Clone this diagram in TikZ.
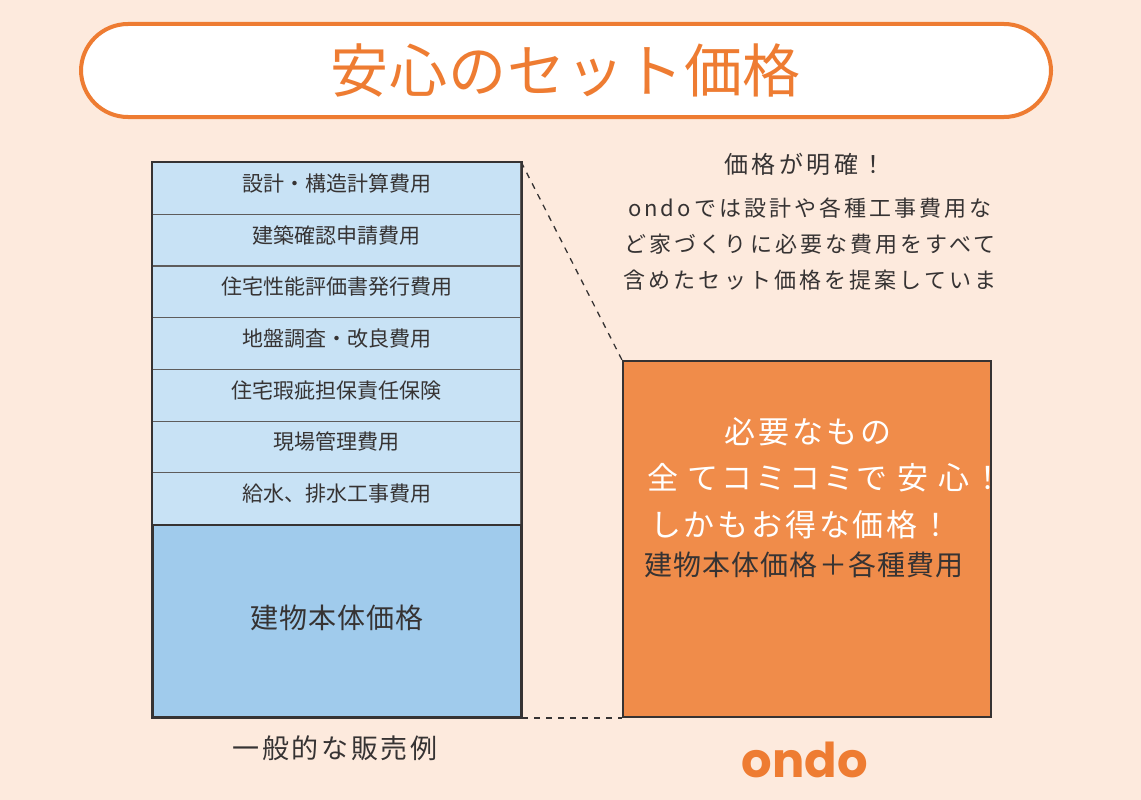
\documentclass[tikz,border=0pt]{standalone}
\usepackage{fontspec}
\setmainfont{Noto Sans CJK JP}
\newfontfamily\ondofont{Poppins}
\usetikzlibrary{positioning}
\definecolor{bgpeach}{HTML}{FDEADD}
\definecolor{titleorange}{HTML}{EE7C32}
\definecolor{boxorange}{HTML}{F08C4A}
\definecolor{rowblue}{HTML}{C8E2F5}
\definecolor{bodyblue}{HTML}{A0CBEC}
\definecolor{ink}{HTML}{363333}
\begin{document}
\begin{tikzpicture}[x=1pt,y=-1pt,
  cost/.style={draw=ink!80, line width=1.2pt, fill=rowblue, minimum width=368pt, minimum height=51.7pt, inner sep=0pt, anchor=north west, text=ink, font=\fontsize{21}{21}\selectfont, text height=14pt, text depth=8pt},
  boxline/.style={text=white, inner sep=0pt, font=\fontsize{31}{31}\selectfont\addfontfeatures{LetterSpace=9}},
  joinline/.style={draw=ink, line width=1.3pt, dash pattern=on 6pt off 6pt}]
\fill[bgpeach] (0,0) rectangle (1141,800);
\useasboundingbox (0,0) rectangle (1141,800);
% title
\node[draw=titleorange, line width=4pt, fill=white, rounded corners=47pt, minimum width=970pt, minimum height=93pt, text=titleorange, font=\fontsize{58}{58}\selectfont\addfontfeatures{LetterSpace=1.5}] (title) at (566,70.5) {安心のセット価格};
% general example
\node[cost] (row1) at (152,162) {設計・構造計算費用};
\node[cost] (row2) at (152,213.7) {建築確認申請費用};
\node[cost] (row3) at (152,265.4) {住宅性能評価書発行費用};
\node[cost] (row4) at (152,317.1) {地盤調査・改良費用};
\node[cost] (row5) at (152,368.8) {住宅瑕疵担保責任保険};
\node[cost] (row6) at (152,420.5) {現場管理費用};
\node[cost] (row7) at (152,472.2) {給水、排水工事費用};
\node[draw=ink, line width=2pt, fill=bodyblue, minimum width=368pt, minimum height=192pt, inner sep=0pt, anchor=north west, text=ink, font=\fontsize{28}{28}\selectfont\addfontfeatures{LetterSpace=4}, text height=20pt, text depth=6pt] (body) at (152,524) {建物本体価格};
\draw[ink, line width=2pt] (row1.north west) rectangle (body.south east);
\node[text=ink, font=\fontsize{27}{27}\selectfont\addfontfeatures{LetterSpace=10}] (general) at (335,748) {一般的な販売例};
% ondo
\node[draw=ink, line width=2pt, fill=boxorange, minimum width=368pt, minimum height=356pt, inner sep=0pt, anchor=north west] (ondobox) at (622,360) {};
\draw[joinline] (row1.north east) -- (ondobox.north west);
\draw[joinline] (body.south east) -- (ondobox.south west);
\node[boxline] (need) at (808,432) {必要なもの};
\node[boxline, anchor=west] (all) at (647,478) {全 てコミコミで 安 心！};
\node[boxline, anchor=west] (deal) at (650,525) {しかもお得な価格！};
\node[text=ink, inner sep=0pt, font=\fontsize{28}{28}\selectfont\addfontfeatures{LetterSpace=4}] (sum) at (804,565) {建物本体価格＋各種費用};
\node[text=titleorange, font=\ondofont\bfseries\fontsize{48}{48}\selectfont] (brand) at (805,760) {ondo};
% explanation
\node[text=ink, font=\fontsize{24}{24}\selectfont\addfontfeatures{LetterSpace=14}] (clear) at (805,164) {価格が明確！};
\node[text=ink, align=center, font=\fontsize{22}{36}\selectfont\addfontfeatures{LetterSpace=14}] (note) at (810,244) {ondoでは設計や各種工事費用な\\ど家づくりに必要な費用をすべて\\含めたセット価格を提案していま};
\end{tikzpicture}
\end{document}
